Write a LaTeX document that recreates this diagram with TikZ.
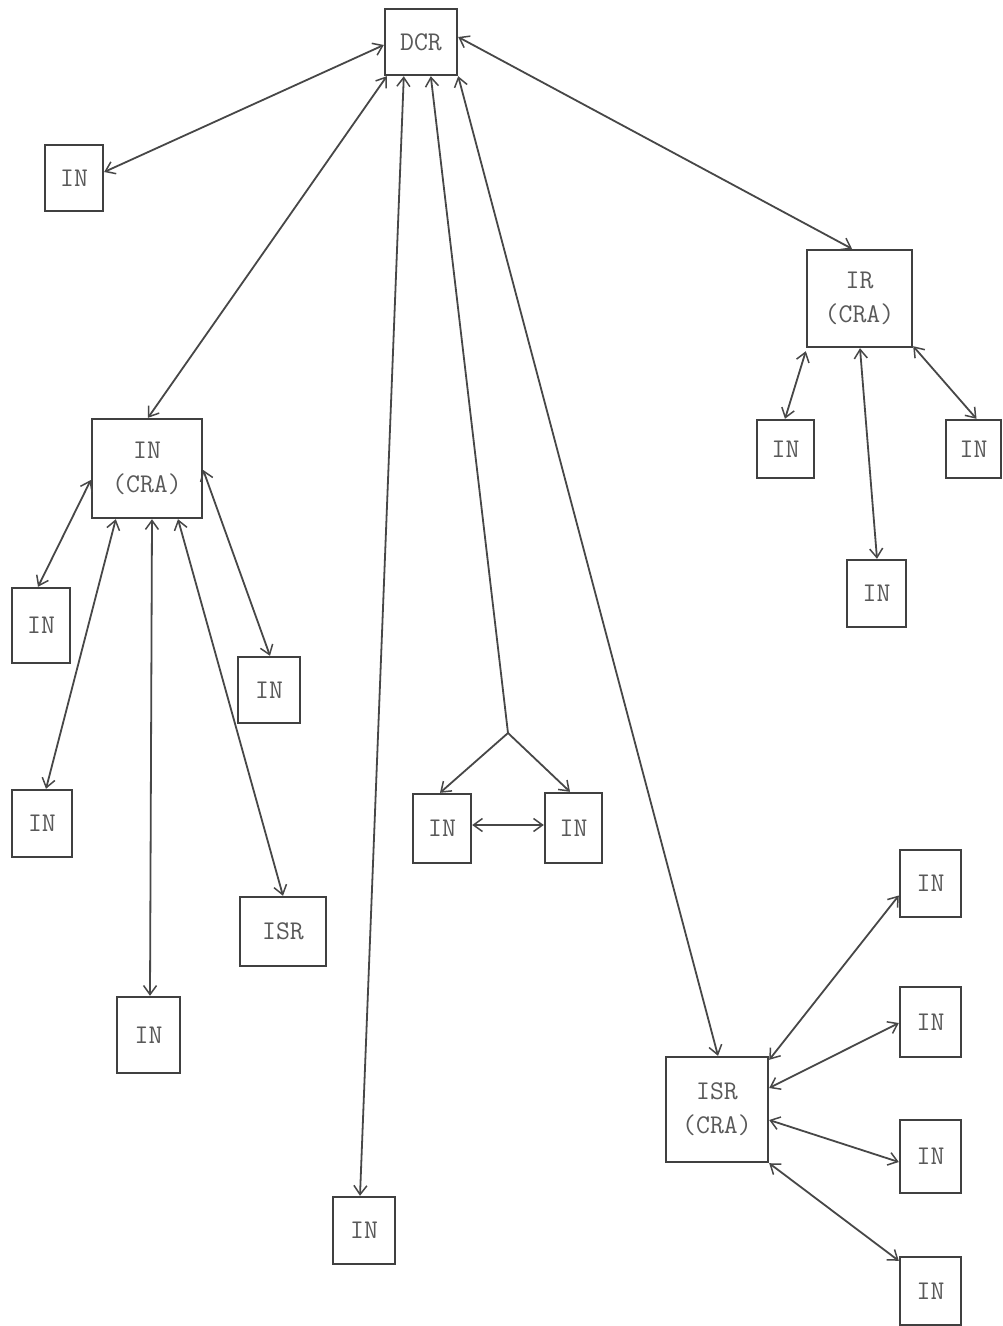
\documentclass[tikz,border=0pt]{standalone}
\usepackage{fontspec}
\usetikzlibrary{arrows.meta}
\begin{document}
\begin{tikzpicture}[x=1pt,y=-1pt,
  box/.style={draw=black!75,line width=2.4pt,rectangle,inner sep=0pt,
    font=\fontsize{27}{34}\selectfont\ttfamily,text=black!65,align=center},
  arr/.style={draw=black!72,line width=1.8pt,
    {Straight Barb[length=9pt,width=13pt,line width=1.5pt]}-{Straight Barb[length=9pt,width=13pt,line width=1.5pt]}},
  arrs/.style={draw=black!72,line width=1.8pt,
    -{Straight Barb[length=9pt,width=13pt,line width=1.5pt]}}]
\useasboundingbox (0,0) rectangle (1003,1326);
\fill[white] (0,0) rectangle (1003,1326);
% nodes
\node[box,minimum width=72pt,minimum height=66pt] (dcr) at (421,42) {DCR};
\node[box,minimum width=58pt,minimum height=66pt] (in1) at (74,178) {IN};
\node[box,minimum width=110pt,minimum height=99pt] (incra) at (147,468.5) {IN\\(CRA)};
\node[box,minimum width=58pt,minimum height=75pt] (in2) at (41,625.5) {IN};
\node[box,minimum width=62pt,minimum height=66pt] (in3) at (269,690) {IN};
\node[box,minimum width=60pt,minimum height=67pt] (in4) at (42,823.5) {IN};
\node[box,minimum width=86pt,minimum height=69pt] (isr) at (283,931.5) {ISR};
\node[box,minimum width=63pt,minimum height=76pt] (in5) at (148.5,1035) {IN};
\node[box,minimum width=62pt,minimum height=67pt] (in6) at (364,1230.5) {IN};
\node[box,minimum width=58pt,minimum height=69pt] (in7) at (442,828.5) {IN};
\node[box,minimum width=57pt,minimum height=70pt] (in8) at (573.5,828) {IN};
\node[box,minimum width=102pt,minimum height=105pt] (isrcra) at (717,1109.5) {ISR\\(CRA)};
\node[box,minimum width=61pt,minimum height=67pt] (in9) at (930.5,883.5) {IN};
\node[box,minimum width=61pt,minimum height=70pt] (in10) at (930.5,1022) {IN};
\node[box,minimum width=61pt,minimum height=73pt] (in11) at (930.5,1156.5) {IN};
\node[box,minimum width=61pt,minimum height=68pt] (in12) at (930.5,1291) {IN};
\node[box,minimum width=105pt,minimum height=97pt] (ir) at (859.5,298.5) {IR\\(CRA)};
\node[box,minimum width=57pt,minimum height=58pt] (in13) at (785.5,449) {IN};
\node[box,minimum width=55pt,minimum height=58pt] (in14) at (973.5,449) {IN};
\node[box,minimum width=59pt,minimum height=67pt] (in15) at (876.5,593.5) {IN};
\coordinate (j) at (508,733);
% connectors from DCR
\draw[arr] ([yshift=-3pt]dcr.west) -- ([yshift=6pt]in1.east);
\draw[arr] ([xshift=3pt]dcr.south west) -- ([xshift=1pt]incra.north);
\draw[arr] ([xshift=20pt]dcr.south west) -- ([xshift=-4pt]in6.north);
\draw[arrs] (j) -- ([xshift=47pt]dcr.south west);
\draw[arr] (dcr.south east) -- ([xshift=1pt]isrcra.north);
\draw[arr] ([yshift=5pt]dcr.east) -- ([xshift=-7.5pt]ir.north);
% branch pair
\draw[arrs] (j) -- ([xshift=-2pt]in7.north);
\draw[arrs] (j) -- ([xshift=-3.5pt]in8.north);
\draw[arr] ([yshift=3.5pt]in7.east) -- ([yshift=3pt]in8.west);
% IR children
\draw[arr] ([yshift=-3pt]ir.south west) -- ([xshift=-0.5pt]in13.north);
\draw[arr] ([xshift=0.5pt]ir.south) -- ([xshift=0.5pt]in15.north);
\draw[arr] ([yshift=2pt]ir.south east) -- ([xshift=3pt]in14.north);
% IN(CRA) children
\draw[arr] ([yshift=-11.5pt]incra.west) -- ([xshift=-3pt]in2.north);
\draw[arr] ([xshift=25pt]incra.south west) -- ([xshift=4pt]in4.north);
\draw[arr] ([xshift=5pt]incra.south) -- ([xshift=1.5pt]in5.north);
\draw[arr] ([xshift=31pt]incra.south) -- (isr.north);
\draw[arr] ([yshift=-1.5pt]incra.east) -- ([xshift=1pt]in3.north);
% ISR(CRA) children
\draw[arr] ([yshift=-4pt]isrcra.north east) -- ([yshift=-12pt]in9.west);
\draw[arr] ([yshift=21.5pt]isrcra.east) -- ([yshift=-1pt]in10.west);
\draw[arr] ([yshift=-10.5pt]isrcra.east) -- ([yshift=-5.5pt]in11.west);
\draw[arr] (isrcra.south east) -- ([yshift=-5pt]in12.north west);
\end{tikzpicture}
\end{document}
